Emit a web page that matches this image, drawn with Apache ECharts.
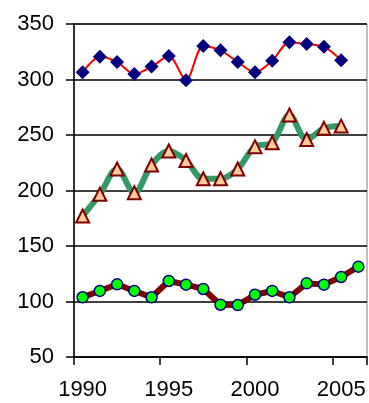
<!DOCTYPE html>
<html><head><meta charset="utf-8">
<script src="https://cdn.jsdelivr.net/npm/echarts@6/dist/echarts.min.js"></script>
<style>html,body{margin:0;padding:0;background:#fff}#c{width:369px;height:403px}</style>
</head><body><div id="c"></div>
<script>
const years = ['1990','1991','1992','1993','1994','1995','1996','1997','1998','1999','2000','2001','2002','2003','2004','2005','2006'];
const diamonds = [306.5,320.6,315.8,305,311.6,321.2,299.3,330.2,326.3,315.8,306.5,317,333.5,332,329.6,317.3];
const triangles = [177,196.6,219.4,198,223,235.6,227,210.6,210.6,219.4,239.5,243,268,246,256,258];
const circles = [103.8,109.5,115.5,109.5,103.8,118.5,115.2,111.3,97.1,96.8,106.1,109.5,103.8,116.4,115.2,122.1,131.4];
const yTicks = {min:50, max:350, interval:50};

const chart = echarts.init(document.getElementById('c'), null, {renderer:'canvas'});
const font = 'Liberation Sans, Arial, sans-serif';
chart.setOption({
  animation:false,
  grid:{left:74, top:24, width:293, height:333, show:true, borderColor:'#808080', borderWidth:1, backgroundColor:'transparent'},
  xAxis:{type:'category', data:years, boundaryGap:true,
    axisLine:{lineStyle:{color:'#000', width:1.5}},
    axisTick:{show:true, inside:false, length:8, interval:(i)=>i%5===0, lineStyle:{color:'#000', width:1.5}},
    axisLabel:{interval:(i)=>i%5===0, color:'#000', fontFamily:font, fontSize:22, margin:22},
    splitLine:{show:false}},
  yAxis:{type:'value', min:yTicks.min, max:yTicks.max, interval:yTicks.interval,
    axisLine:{show:true, lineStyle:{color:'#000', width:1.5}},
    axisTick:{show:true, inside:false, length:8, lineStyle:{color:'#000', width:1.5}},
    axisLabel:{color:'#000', fontFamily:font, fontSize:22, margin:20},
    splitLine:{show:true, lineStyle:{color:'#000', width:1.5}}},
  series:[
    {type:'line', data:diamonds, smooth:0.3, symbol:'diamond', symbolSize:14, showAllSymbol:true,
     lineStyle:{color:'#ff0000', width:2}, itemStyle:{color:'#000080'}},
    {type:'line', data:triangles, smooth:0.35, symbol:'triangle', symbolSize:13, showAllSymbol:true,
     lineStyle:{color:'#339966', width:6}, itemStyle:{color:'#ffcc99', borderColor:'#800000', borderWidth:2}},
    {type:'line', data:circles, smooth:false, symbol:'circle', symbolSize:11, showAllSymbol:true,
     lineStyle:{color:'#800000', width:6}, itemStyle:{color:'#00ff00', borderColor:'#000080', borderWidth:1.5}}
  ]
});
</script></body></html>
